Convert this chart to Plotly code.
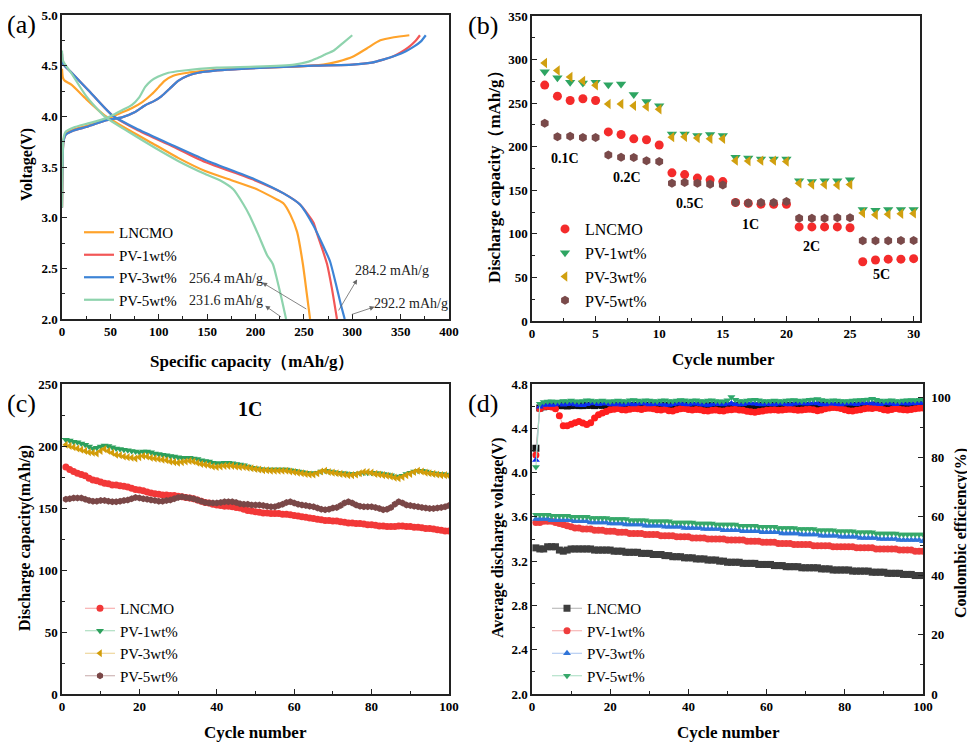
import plotly.graph_objects as go

SERIF = "Liberation Serif, Times New Roman, serif"

# ---------------- panel (a): charge / discharge profiles ----------------
names = ["LNCMO", "PV-1wt%", "PV-3wt%", "PV-5wt%"]

a_chg_cap_lncmo = [0, 0.5, 1.5, 4, 12, 27, 48, 60, 72, 83, 93, 100, 106, 115, 130, 164, 199, 240, 270, 285, 301, 315, 329, 343, 359]
a_chg_v_lncmo = [3.10, 3.50, 3.76, 3.83, 3.87, 3.91, 3.98, 4.03, 4.08, 4.14, 4.22, 4.29, 4.35, 4.40, 4.43, 4.46, 4.48, 4.49, 4.51, 4.54, 4.59, 4.67, 4.75, 4.78, 4.80]
a_chg_cap_pv1 = [0, 0.5, 1.5, 4, 12, 27, 45, 62, 75, 86, 95, 103, 111, 120, 130, 141, 171, 210, 260, 300, 320, 332, 342, 350, 358, 365, 370]
a_chg_v_pv1 = [3.10, 3.50, 3.75, 3.82, 3.86, 3.90, 3.96, 3.99, 4.04, 4.11, 4.15, 4.20, 4.27, 4.35, 4.40, 4.43, 4.46, 4.48, 4.50, 4.51, 4.53, 4.56, 4.59, 4.63, 4.68, 4.74, 4.80]
a_chg_cap_pv3 = [0, 0.5, 1.5, 4, 12, 27, 45, 62, 75, 86, 95, 103, 111, 120, 130, 141, 171, 210, 260, 300, 320, 332, 345, 355, 364, 371, 376]
a_chg_v_pv3 = [3.10, 3.50, 3.75, 3.82, 3.86, 3.90, 3.96, 3.99, 4.04, 4.11, 4.15, 4.20, 4.27, 4.35, 4.40, 4.43, 4.46, 4.48, 4.50, 4.51, 4.53, 4.56, 4.60, 4.64, 4.69, 4.74, 4.80]
a_chg_cap_pv5 = [0, 0.5, 1.5, 4, 12, 27, 45, 52, 62, 72, 80, 86, 92, 99, 110, 124, 160, 200, 240, 255, 263, 272, 281, 290, 300]
a_chg_v_pv5 = [3.10, 3.52, 3.78, 3.85, 3.89, 3.93, 3.98, 4.01, 4.06, 4.11, 4.19, 4.29, 4.35, 4.39, 4.43, 4.45, 4.48, 4.49, 4.51, 4.54, 4.57, 4.61, 4.65, 4.72, 4.80]

a_dis_cap_lncmo = [0, 1, 3, 10, 25, 44, 70, 96, 120, 148, 175, 199, 212, 222, 229, 236, 243, 249, 253, 256.4]
a_dis_v_lncmo = [4.47, 4.38, 4.35, 4.31, 4.17, 4.01, 3.86, 3.72, 3.59, 3.46, 3.37, 3.29, 3.23, 3.18, 3.14, 3.03, 2.86, 2.54, 2.25, 2.00]
a_dis_cap_pv1 = [0, 1, 10, 27, 52, 79, 113, 148, 199, 229, 246, 260, 263, 268, 274, 279, 284.2]
a_dis_v_pv1 = [4.62, 4.52, 4.43, 4.26, 4.01, 3.86, 3.71, 3.55, 3.37, 3.24, 3.13, 2.95, 2.86, 2.72, 2.54, 2.30, 2.00]
a_dis_cap_pv3 = [0, 1, 10, 27, 52, 79, 113, 148, 199, 229, 246, 260, 270, 277, 283, 288, 292.2]
a_dis_v_pv3 = [4.62, 4.52, 4.43, 4.26, 4.01, 3.87, 3.72, 3.57, 3.38, 3.24, 3.13, 2.92, 2.72, 2.57, 2.35, 2.15, 2.00]
a_dis_cap_pv5 = [0, 1, 10, 25, 44, 70, 96, 120, 148, 165, 177, 187, 194, 203, 212, 218, 222, 227, 231.6]
a_dis_v_pv5 = [4.65, 4.55, 4.42, 4.20, 4.00, 3.84, 3.69, 3.56, 3.43, 3.36, 3.28, 3.14, 3.02, 2.83, 2.63, 2.54, 2.40, 2.20, 2.00]

a_labels = ["256.4 mAh/g", "231.6 mAh/g", "284.2 mAh/g", "292.2 mAh/g"]

# ---------------- panel (b): rate capability ----------------
b_cycles = list(range(1, 31))
b_lncmo = [270.7, 258, 253, 255, 253, 217, 214, 209, 208, 202,
           170, 168, 164, 162, 160, 136, 135, 134, 134, 134,
           108, 108, 108, 108, 107, 68, 70, 71, 71, 71.5]
b_pv1 = [286, 279, 274, 273, 274, 271, 272, 260, 252, 247,
         214.5, 214.5, 213, 214, 213, 188, 187, 186, 186, 186,
         161, 160, 161, 161, 162, 128, 127, 128, 128, 128]
b_pv3 = [296, 287.5, 280, 275.5, 270.5, 249, 249, 247, 246, 243,
         211, 211.5, 210, 209, 209, 184, 183.5, 184, 184, 183,
         158, 156.5, 156.5, 156, 156.5, 124, 122, 122.5, 123, 123.5]
b_pv5 = [227, 211.5, 212, 210.5, 210.5, 190.5, 188, 187.5, 184, 183,
         158, 159, 158, 157, 156, 136, 135.5, 136, 136, 137,
         118, 118, 118, 118.5, 118.5, 92, 92, 92, 92.5, 92.5]
b_rate_text = ["0.1C", "0.2C", "0.5C", "1C", "2C", "5C"]
b_rate_x = [2.6, 7.5, 12.4, 17.2, 22.0, 27.5]
b_rate_y = [187, 165, 135, 111, 85, 53]

# ---------------- panel (c): cycling at 1C ----------------
cycles = list(range(1, 101))
c_lncmo = [183, 181, 179.5, 178, 177, 176, 174, 172.5, 172, 171,
           170, 169.5, 168.5, 168.5, 168, 167.5, 167, 166, 165, 164.5,
           164, 163, 162, 161.5, 161, 160.5, 160.5, 160, 160, 159.5,
           159, 158.5, 158, 157.5, 156.5, 155.5, 154.5, 154, 153, 152.5,
           152, 151.5, 151.5, 151, 150.5, 150, 149, 148, 147.5, 147,
           146.5, 146, 146, 145.5, 145.5, 145.5, 145, 145, 144.5, 144,
           143.5, 143, 142.5, 142, 141.5, 141, 140.5, 140, 140, 139.5,
           139.5, 139, 138.5, 138, 138, 137.5, 137.5, 137, 136.5, 136.5,
           136, 135.5, 135.5, 135, 135, 135, 135.5, 135.5, 135, 135,
           134.5, 134.5, 134, 133.5, 133.5, 133, 132.5, 132, 131.5, 131.5]
c_pv1 = [205, 204.5, 203.5, 203, 202, 201, 199.5, 198, 198.5, 199.5,
         200.5, 200, 199, 198, 197.5, 197, 196.5, 196, 195.5, 195,
         195.5, 195.5, 195, 194, 193.5, 193, 192.5, 192, 191.5, 191,
         190.5, 190.5, 190.5, 190, 189.5, 188.5, 188, 187.5, 186.5, 186,
         186, 186.5, 186.5, 186, 185.5, 185, 184.5, 183.5, 182.5, 182,
         181.5, 181, 181, 181, 181, 181, 181, 181, 180.5, 180,
         179.5, 179, 178.5, 178, 178, 178.5, 179.5, 180, 179.5, 179,
         178.5, 178, 178, 177.5, 177.5, 177.5, 178, 178.5, 178.5, 178.5,
         178, 178, 177.5, 177, 176.5, 175.5, 175, 176, 177.5, 178.5,
         179.5, 180, 180, 179.5, 178.5, 178, 177.5, 177.5, 177, 176.5]
c_pv3 = [201, 200, 199, 198, 197, 196, 195, 194.5, 194, 196,
         197.5, 196, 194.5, 193, 192.5, 191.5, 191, 190.5, 190, 191,
         192, 191.5, 190.5, 190, 189.5, 189, 188.5, 187.5, 187, 186.5,
         187, 187.5, 188, 187.5, 186.5, 185.5, 185, 184.5, 183.5, 183,
         183.5, 184, 184, 184, 183.5, 183, 183, 182.5, 182, 181.5,
         181, 180.5, 180.5, 180, 180, 180, 180, 180, 179.5, 179,
         178.5, 178, 177.5, 177, 177, 178, 179.5, 180, 179, 178.5,
         178, 177.5, 177, 176.5, 176.5, 177, 178, 179, 179, 178.5,
         177.5, 177, 176.5, 176, 175.5, 174.5, 174, 175, 176.5, 177.5,
         179, 180, 179.5, 178.5, 178, 177.5, 177, 176.5, 176.5, 176]
c_pv5 = [157, 157.5, 158, 158, 158, 157, 156, 155.5, 155.5, 156,
         156, 155.5, 155, 155, 155.5, 156, 156.5, 157.5, 158.5, 158,
         157.5, 157, 156.5, 156, 155.5, 155.5, 156, 156.5, 157.5, 158.5,
         159, 158.5, 158, 157.5, 156.5, 155.5, 154.5, 154, 154, 154,
         154.5, 155, 155, 155, 154.5, 153.5, 153, 153, 152.5, 152.5,
         152.5, 152, 151.5, 151, 151, 152, 153, 154.5, 155, 154,
         153, 152.5, 152, 151.5, 151, 150, 149, 148.5, 149, 150,
         150.5, 152, 154, 155, 154, 152.5, 151.5, 151, 151, 151,
         150.5, 149.5, 148.5, 149, 150.5, 153, 155, 154, 152.5, 152,
         151.5, 151, 150.5, 150, 149.5, 149.5, 150, 150.5, 151, 152]

# ---------------- panel (d): average voltage and coulombic efficiency ----------------
d_v_lncmo = [3.32, 3.31, 3.31, 3.33, 3.33, 3.33, 3.30, 3.29, 3.30, 3.31,
             3.31, 3.31, 3.31, 3.31, 3.31, 3.30, 3.30, 3.30, 3.30, 3.30,
             3.29, 3.29, 3.29, 3.28, 3.28, 3.28, 3.28, 3.27, 3.27, 3.27,
             3.26, 3.26, 3.26, 3.25, 3.25, 3.24, 3.24, 3.24, 3.23, 3.23,
             3.23, 3.22, 3.22, 3.22, 3.21, 3.21, 3.21, 3.20, 3.20, 3.19,
             3.19, 3.19, 3.19, 3.18, 3.18, 3.18, 3.18, 3.17, 3.17, 3.17,
             3.17, 3.16, 3.16, 3.16, 3.15, 3.15, 3.15, 3.15, 3.14, 3.14,
             3.14, 3.14, 3.14, 3.13, 3.13, 3.13, 3.12, 3.12, 3.12, 3.12,
             3.12, 3.11, 3.11, 3.11, 3.11, 3.11, 3.10, 3.10, 3.10, 3.10,
             3.09, 3.09, 3.09, 3.09, 3.08, 3.08, 3.08, 3.07, 3.07, 3.07]
d_v_pv1 = [3.55, 3.55, 3.56, 3.56, 3.56, 3.55, 3.54, 3.53, 3.52, 3.51,
           3.50, 3.50, 3.49, 3.49, 3.49, 3.48, 3.48, 3.48, 3.47, 3.47,
           3.47, 3.46, 3.46, 3.46, 3.45, 3.45, 3.45, 3.45, 3.44, 3.44,
           3.44, 3.44, 3.43, 3.43, 3.43, 3.43, 3.42, 3.42, 3.42, 3.42,
           3.41, 3.41, 3.41, 3.41, 3.40, 3.40, 3.40, 3.40, 3.40, 3.39,
           3.39, 3.39, 3.39, 3.39, 3.38, 3.38, 3.38, 3.38, 3.37, 3.37,
           3.37, 3.37, 3.36, 3.36, 3.36, 3.36, 3.35, 3.35, 3.35, 3.35,
           3.35, 3.34, 3.34, 3.34, 3.34, 3.34, 3.33, 3.33, 3.33, 3.33,
           3.33, 3.33, 3.32, 3.32, 3.32, 3.32, 3.32, 3.31, 3.31, 3.31,
           3.31, 3.31, 3.31, 3.30, 3.30, 3.30, 3.30, 3.29, 3.29, 3.29]
d_v_pv3 = [3.58, 3.58, 3.58, 3.58, 3.57, 3.57, 3.57, 3.57, 3.57, 3.57,
           3.56, 3.56, 3.56, 3.56, 3.55, 3.55, 3.55, 3.55, 3.55, 3.54,
           3.54, 3.54, 3.54, 3.53, 3.53, 3.53, 3.53, 3.53, 3.52, 3.52,
           3.52, 3.52, 3.52, 3.51, 3.51, 3.51, 3.51, 3.51, 3.50, 3.50,
           3.50, 3.50, 3.50, 3.49, 3.49, 3.49, 3.49, 3.49, 3.48, 3.48,
           3.48, 3.48, 3.48, 3.47, 3.47, 3.47, 3.47, 3.47, 3.46, 3.46,
           3.46, 3.46, 3.46, 3.45, 3.45, 3.45, 3.45, 3.45, 3.44, 3.44,
           3.44, 3.44, 3.44, 3.43, 3.43, 3.43, 3.43, 3.43, 3.42, 3.42,
           3.42, 3.42, 3.42, 3.41, 3.41, 3.41, 3.41, 3.41, 3.40, 3.40,
           3.40, 3.40, 3.40, 3.39, 3.39, 3.39, 3.39, 3.39, 3.39, 3.38]
d_v_pv5 = [3.62, 3.62, 3.62, 3.62, 3.61, 3.61, 3.61, 3.61, 3.61, 3.60,
           3.60, 3.60, 3.60, 3.60, 3.59, 3.59, 3.59, 3.59, 3.59, 3.58,
           3.58, 3.58, 3.58, 3.58, 3.57, 3.57, 3.57, 3.57, 3.57, 3.56,
           3.56, 3.56, 3.56, 3.56, 3.56, 3.55, 3.55, 3.55, 3.55, 3.55,
           3.55, 3.54, 3.54, 3.54, 3.54, 3.54, 3.53, 3.53, 3.53, 3.53,
           3.53, 3.53, 3.52, 3.52, 3.52, 3.52, 3.52, 3.51, 3.51, 3.51,
           3.51, 3.51, 3.50, 3.50, 3.50, 3.50, 3.50, 3.49, 3.49, 3.49,
           3.49, 3.49, 3.48, 3.48, 3.48, 3.48, 3.48, 3.47, 3.47, 3.47,
           3.47, 3.47, 3.46, 3.46, 3.46, 3.46, 3.46, 3.45, 3.45, 3.45,
           3.45, 3.45, 3.45, 3.44, 3.44, 3.44, 3.44, 3.44, 3.44, 3.44]

d_ce_lncmo = [83.0, 96.6, 97.0, 97.2, 97.3, 97.3, 97.4, 97.4, 97.3, 97.4,
              97.5, 97.4, 97.4, 97.5, 97.5, 97.4, 97.6, 97.5, 97.5, 97.6,
              97.4, 97.5, 97.4, 97.6, 97.5, 97.4, 97.5, 97.6, 97.5, 97.4,
              97.5, 97.6, 97.5, 97.4, 97.3, 97.4, 97.5, 97.6, 97.5, 97.4,
              97.4, 97.5, 97.3, 97.2, 97.3, 97.4, 97.4, 97.5, 97.4, 97.3,
              97.2, 97.3, 97.4, 97.5, 97.4, 97.3, 97.2, 97.3, 97.4, 97.5,
              97.4, 97.5, 97.5, 97.4, 97.3, 97.4, 97.5, 97.6, 97.5, 97.4,
              97.5, 97.4, 97.5, 97.6, 97.5, 97.4, 97.3, 97.4, 97.5, 97.6,
              97.5, 97.4, 97.5, 97.6, 97.5, 97.4, 97.5, 97.6, 97.5, 97.4,
              97.5, 97.6, 97.5, 97.4, 97.5, 97.6, 97.5, 97.6, 97.7, 97.6]
d_ce_pv1 = [80.7, 96.3, 97.0, 97.1, 96.9, 96.3, 94.0, 90.6, 90.6, 91.1,
            91.6, 92.0, 91.5, 91.0, 91.6, 93.2, 94.3, 94.9, 95.4, 96.0,
            96.2, 96.4, 96.0, 95.9, 96.2, 96.4, 96.3, 96.1, 96.4, 96.5,
            96.3, 96.0, 95.9, 96.2, 95.7, 95.6, 96.0, 96.3, 96.4, 96.1,
            95.9, 96.1, 96.0, 95.7, 95.6, 95.8, 95.9, 95.7, 95.6, 95.9,
            96.0, 96.2, 95.9, 95.8, 95.5, 95.3, 95.2, 95.4, 95.6, 95.8,
            95.9, 96.0, 95.8, 95.9, 96.1, 96.2, 96.0, 95.8, 95.9, 96.1,
            96.2, 96.0, 95.7, 95.9, 96.3, 96.6, 96.8, 96.7, 96.4, 96.0,
            95.7, 95.6, 95.8, 96.0, 96.3, 96.5, 96.4, 96.7, 96.4, 96.0,
            95.8, 96.1, 96.4, 96.2, 96.0, 95.9, 96.1, 96.3, 96.5, 96.6]
d_ce_pv3 = [79.0, 97.0, 97.6, 97.8, 97.6, 97.8, 98.0, 97.7, 97.9, 98.1,
            97.8, 97.6, 97.5, 97.9, 98.1, 98.2, 97.9, 98.0, 98.2, 97.9,
            97.8, 98.0, 97.7, 97.9, 98.1, 97.8, 98.0, 98.2, 98.0, 97.8,
            97.9, 98.1, 97.9, 97.7, 97.6, 97.9, 98.0, 98.2, 97.9, 97.8,
            98.0, 98.1, 97.9, 97.7, 97.6, 97.8, 98.0, 97.9, 97.8, 98.0,
            98.1, 97.9, 97.8, 97.9, 98.1, 98.2, 98.0, 97.9, 97.8, 98.0,
            97.9, 97.8, 98.0, 98.1, 97.9, 97.8, 98.0, 98.1, 98.2, 98.0,
            98.1, 98.3, 98.1, 97.9, 97.8, 98.0, 98.1, 97.9, 97.8, 98.0,
            98.1, 98.0, 97.9, 98.1, 98.2, 98.3, 98.1, 98.0, 97.9, 98.1,
            98.2, 98.0, 97.9, 98.1, 98.2, 98.0, 98.1, 98.2, 98.3, 98.4]
d_ce_pv5 = [76.7, 98.0, 98.6, 98.8, 98.9, 98.7, 98.8, 99.0, 98.9, 99.1,
            98.9, 98.8, 99.0, 99.2, 99.1, 98.9, 99.0, 99.1, 98.9, 98.8,
            99.0, 99.1, 99.0, 98.9, 99.2, 99.3, 99.1, 99.0, 99.2, 99.1,
            99.0, 98.9, 99.1, 99.2, 99.0, 98.9, 99.1, 99.3, 99.2, 99.0,
            99.1, 99.2, 99.0, 98.9, 99.1, 99.2, 99.0, 98.8, 98.9, 99.2,
            100.3, 99.4, 99.0, 98.9, 99.1, 99.3, 99.4, 99.2, 99.0, 98.9,
            99.0, 99.1, 99.0, 98.9, 99.1, 99.2, 99.3, 99.1, 99.0, 99.2,
            99.4, 99.5, 99.6, 99.3, 99.1, 99.0, 99.2, 99.1, 99.0, 98.9,
            99.0, 99.1, 99.2, 99.3, 99.4, 99.5, 99.7, 99.4, 99.1, 99.0,
            99.1, 99.2, 99.0, 98.9, 99.1, 99.2, 99.3, 99.2, 99.4, 99.5]

fig = go.Figure()

# (a) curves
a_colors = ["#ffa32b", "#f25757", "#3d84d6", "#8ed3ad"]
a_charge = [(a_chg_cap_lncmo, a_chg_v_lncmo), (a_chg_cap_pv1, a_chg_v_pv1),
            (a_chg_cap_pv3, a_chg_v_pv3), (a_chg_cap_pv5, a_chg_v_pv5)]
a_discharge = [(a_dis_cap_lncmo, a_dis_v_lncmo), (a_dis_cap_pv1, a_dis_v_pv1),
               (a_dis_cap_pv3, a_dis_v_pv3), (a_dis_cap_pv5, a_dis_v_pv5)]
for i in range(4):
    fig.add_trace(go.Scatter(x=a_charge[i][0], y=a_charge[i][1], mode="lines", name=names[i],
                             line=dict(color=a_colors[i], width=2.2, shape="spline", smoothing=0.6),
                             xaxis="x", yaxis="y", legend="legend"))
    fig.add_trace(go.Scatter(x=a_discharge[i][0], y=a_discharge[i][1], mode="lines", name=names[i],
                             line=dict(color=a_colors[i], width=2.2, shape="spline", smoothing=0.6),
                             xaxis="x", yaxis="y", showlegend=False))

# (b) markers
b_colors = ["#f42b2b", "#2ea562", "#d1a010", "#7a4a4a"]
b_symbols = ["circle", "triangle-down", "triangle-left", "hexagon"]
b_series = [b_lncmo, b_pv1, b_pv3, b_pv5]
for i in range(4):
    fig.add_trace(go.Scatter(x=b_cycles, y=b_series[i], mode="markers", name=names[i],
                             marker=dict(color=b_colors[i], symbol=b_symbols[i], size=9),
                             xaxis="x2", yaxis="y2", legend="legend2"))

# (c) cycling
c_colors = ["#f23838", "#2ca05c", "#d29c08", "#7a4747"]
c_line_colors = ["#f7a0a0", "#9fd8b6", "#ebcf8a", "#c6a8a8"]
c_series = [c_lncmo, c_pv1, c_pv3, c_pv5]
for i in range(4):
    fig.add_trace(go.Scatter(x=cycles, y=c_series[i], mode="lines+markers", name=names[i],
                             marker=dict(color=c_colors[i], symbol=b_symbols[i], size=7),
                             line=dict(color=c_line_colors[i], width=1),
                             xaxis="x3", yaxis="y3", legend="legend3"))

# (d) voltage + efficiency
d_colors = ["#3e3e3e", "#ef3d3d", "#2f74d8", "#36a86a"]
d_ce_colors = ["#111111", "#ff1e1e", "#0b2cf0", "#2fa86c"]
d_line_colors = ["#b0b0b0", "#f5a8a8", "#a8c4f0", "#a6dcc0"]
d_symbols = ["square", "circle", "triangle-up", "triangle-down"]
d_v = [d_v_lncmo, d_v_pv1, d_v_pv3, d_v_pv5]
d_ce = [d_ce_lncmo, d_ce_pv1, d_ce_pv3, d_ce_pv5]
for i in range(4):
    fig.add_trace(go.Scatter(x=cycles, y=d_v[i], mode="lines+markers", name=names[i],
                             marker=dict(color=d_colors[i], symbol=d_symbols[i], size=7),
                             line=dict(color=d_line_colors[i], width=1),
                             xaxis="x4", yaxis="y4", legend="legend4"))
for i in range(4):
    fig.add_trace(go.Scatter(x=cycles, y=d_ce[i], mode="lines+markers", name=names[i],
                             marker=dict(color=d_ce_colors[i], symbol=d_symbols[i], size=7),
                             line=dict(color=d_line_colors[i], width=1),
                             xaxis="x4", yaxis="y5", showlegend=False))


# the page body adds an 8px offset, so screen pixels are converted here
def px(x):
    return (x - 8) / 975


def py(y):
    return min(1.0, 1 - (y - 8) / 743)


def axis(domain, rng, dtick, minor, fmt=None, anchor=None, **kw):
    d = dict(domain=domain, range=rng, dtick=dtick, tick0=rng[0], showline=True, linecolor="#222",
             linewidth=1.5, mirror=True, ticks="inside", ticklen=5, tickwidth=1.2, tickcolor="#222",
             showgrid=False, zeroline=False, automargin=False, ticklabeloverflow="allow",
             tickfont=dict(family=SERIF, size=13, color="black", weight="bold"),
             minor=dict(ticks="inside", ticklen=3, tickwidth=1, tickcolor="#222", dtick=minor))
    if fmt:
        d["tickformat"] = fmt
    if anchor:
        d["anchor"] = anchor
    d.update(kw)
    return d


xa = [px(62), px(449)]
xb = [px(532), px(920)]
xd = [px(532), px(923)]
ytop = [py(319), py(15)]
ytopb = [py(321), py(16)]
ybot = [py(694), py(384)]


def legend(x, y, size=16):
    return dict(x=x, y=y, xanchor="left", yanchor="top", bgcolor="rgba(0,0,0,0)",
                font=dict(family=SERIF, size=size, color="black"), tracegroupgap=0, itemwidth=30)


fig.update_layout(
    width=975, height=743, margin=dict(l=0, r=0, t=0, b=0, autoexpand=False),
    paper_bgcolor="white", plot_bgcolor="white",
    font=dict(family=SERIF, color="black"),
    xaxis=axis(xa, [0, 400], 50, 25, anchor="y"),
    yaxis=axis(ytop, [2.0, 5.0], 0.5, 0.25, fmt=".1f", anchor="x"),
    xaxis2=axis(xb, [0, 30.5], 5, 2.5, anchor="y2"),
    yaxis2=axis(ytopb, [0, 350], 50, 25, anchor="x2"),
    xaxis3=axis(xa, [0, 100], 20, 10, anchor="y3"),
    yaxis3=axis(ybot, [0, 250], 50, 25, anchor="x3"),
    xaxis4=axis(xd, [0, 100], 20, 10, anchor="y4"),
    yaxis4=axis(ybot, [2.0, 4.8], 0.4, 0.2, fmt=".1f", anchor="x4"),
    yaxis5=axis(ybot, [0, 104.7], 20, 10, anchor="x4", overlaying="y4", side="right", mirror=False,
                ticklabelstandoff=4),
    legend=legend(px(79), py(216), 15),
    legend2=legend(px(545), py(212), 16),
    legend3=legend(px(80), py(592), 15),
    legend4=legend(px(547), py(592), 15),
)

ann = []
# panel letters
for txt, x, y in [("(a)", 21, 24), ("(b)", 483, 26), ("(c)", 21, 403), ("(d)", 483, 403)]:
    ann.append(dict(text=txt, x=px(x), y=py(y), xref="paper", yref="paper", xanchor="center", yanchor="middle",
                    showarrow=False, font=dict(family=SERIF, size=26, color="black")))

# axis titles
titles = [
    ("Specific capacity（mAh/g）", 252, 361, 0, 17),
    ("Voltage(V)", 27, 165, -90, 16),
    ("Cycle number", 723, 359, 0, 17),
    ("Discharge capacity（mAh/g）", 494, 173, -90, 17),
    ("Cycle number", 255, 732, 0, 17),
    ("Discharge capacity(mAh/g)", 25, 538, -90, 16),
    ("Cycle number", 728, 732, 0, 17),
    ("Average discharge voltage(V)", 498, 538, -90, 16),
    ("Coulombic efficiency(%)", 961, 533, -90, 16),
]
for txt, x, y, ang, fs in titles:
    ann.append(dict(text="<b>" + txt + "</b>", x=px(x), y=py(y), xref="paper", yref="paper",
                    xanchor="center", yanchor="middle",
                    showarrow=False, textangle=ang, font=dict(family=SERIF, size=fs, color="black")))

# (a) capacity labels with arrows
a_text_pos = [(170, 2.40), (170, 2.18), (341, 2.48), (361, 2.15)]
a_heads = [(207, 2.36), (210, 2.13), (305, 2.39), (323, 2.12)]
a_tails = [(254, 2.09), (228, 2.01), (285, 2.07), (298, 2.04)]
for i in range(4):
    ann.append(dict(text=a_labels[i], x=a_text_pos[i][0], y=a_text_pos[i][1], xref="x", yref="y",
                    xanchor="center", yanchor="middle",
                    showarrow=False, font=dict(family=SERIF, size=14, color="#222")))
    ann.append(dict(text="", x=a_heads[i][0], y=a_heads[i][1], ax=a_tails[i][0], ay=a_tails[i][1],
                    xref="x", yref="y", axref="x", ayref="y", showarrow=True,
                    arrowhead=2, arrowsize=1.2, arrowwidth=0.8, arrowcolor="#666"))

# (b) rate labels
for i in range(len(b_rate_text)):
    ann.append(dict(text="<b>" + b_rate_text[i] + "</b>", x=b_rate_x[i], y=b_rate_y[i], xref="x2", yref="y2",
                    xanchor="center", yanchor="middle",
                    showarrow=False, font=dict(family=SERIF, size=14, color="black")))

# (c) rate label
ann.append(dict(text="<b>1C</b>", x=48.6, y=230, xref="x3", yref="y3", showarrow=False,
                xanchor="center", yanchor="middle", font=dict(family=SERIF, size=20, color="black")))

fig.update_layout(annotations=ann)

fig.write_html("out.html")
